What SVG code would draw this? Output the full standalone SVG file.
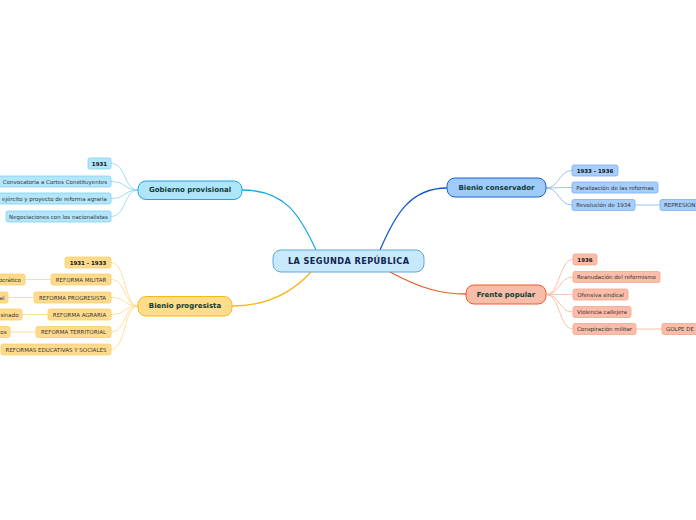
<svg xmlns="http://www.w3.org/2000/svg" width="696" height="520" viewBox="0 0 696 520">
<style>
text{font-family:"DejaVu Sans",Verdana,sans-serif;dominant-baseline:central}
.main{font-size:8.2px;font-weight:bold;fill:#10254f;text-anchor:middle;letter-spacing:0.4px}
.sub{font-size:7px;font-weight:bold;fill:#0f3a33;text-anchor:middle}
.leaf{font-size:5.5px;fill:#333;text-anchor:middle}
.yr{font-size:5.5px;font-weight:bold;fill:#111;text-anchor:middle}
.c{fill:none;stroke-width:1.3}
.cl{fill:none;stroke-width:0.9}
.gb rect.l{fill:#b3e6fb;stroke:#7fd0f2;stroke-width:0.8}
.bc rect.l{fill:#a6cdfb;stroke:#7aaef0;stroke-width:0.8}
.fp rect.l{fill:#fbbda9;stroke:#f3a58a;stroke-width:0.8}
.bp rect.l{fill:#fedb8c;stroke:#f9cf6a;stroke-width:0.8}
</style>
<g id="connectors">
<path class="c" stroke="#1ea7e1" d="M316,250 C300,215 285,190 242,190"/>
<path class="c" stroke="#1259c9" d="M380,250 C395,215 410,188 447,188"/>
<path class="c" stroke="#fbb315" d="M311,272 C290,295 265,306 232,306"/>
<path class="c" stroke="#f05a28" d="M390,272 C420,288 440,294 466,294"/>
<g stroke="#8fd8f3">
<path class="cl" d="M138,190 C124,190 126,163.5 111,163.5"/>
<path class="cl" d="M138,190 C124,190 126,181.5 111,181.5"/>
<path class="cl" d="M138,190 C124,190 126,198.5 111,198.5"/>
<path class="cl" d="M138,190 C124,190 126,216.5 111,216.5"/>
</g>
<g stroke="#8cb9ef">
<path class="cl" d="M546,188 C559,188 559,170.5 572,170.5"/>
<path class="cl" d="M546,188 C559,188 559,187.5 572,187.5"/>
<path class="cl" d="M546,188 C559,188 559,205 572,205"/>
<path class="cl" d="M635,205 L660,205"/>
</g>
<g stroke="#f8b9a3">
<path class="cl" d="M546,294.5 C560,294.5 559,259.5 573,259.5"/>
<path class="cl" d="M546,294.5 C560,294.5 559,277 573,277"/>
<path class="cl" d="M546,294.5 C560,294.5 559,294.5 573,294.5"/>
<path class="cl" d="M546,294.5 C560,294.5 559,312 573,312"/>
<path class="cl" d="M546,294.5 C560,294.5 559,329 573,329"/>
<path class="cl" d="M636,329 L662,329"/>
</g>
<g stroke="#fddb8e">
<path class="cl" d="M138,306 C124,306 126,262.5 111,262.5"/>
<path class="cl" d="M138,306 C124,306 126,279.5 111,279.5"/>
<path class="cl" d="M138,306 C124,306 126,297.5 111,297.5"/>
<path class="cl" d="M138,306 C124,306 126,314.5 111,314.5"/>
<path class="cl" d="M138,306 C124,306 126,332 111,332"/>
<path class="cl" d="M138,306 C124,306 126,349.5 111,349.5"/>
<path class="cl" d="M25,279.5 L51,279.5"/>
<path class="cl" d="M8,297.5 L34,297.5"/>
<path class="cl" d="M22,314.5 L48,314.5"/>
<path class="cl" d="M10,332 L36,332"/>
</g>
</g>
<g id="center">
<rect x="273" y="250" width="151" height="22" rx="8" fill="#c7e9fb" stroke="#5aa9d9" stroke-width="1"/>
<text class="main" x="348.7" y="261">LA SEGUNDA REPÚBLICA</text>
</g>
<g id="gobierno" class="gb">
<rect x="138" y="181" width="104" height="18.5" rx="8" fill="#aee5f9" stroke="#1ea7e1" stroke-width="1"/>
<text class="sub" x="190" y="190.2">Gobierno provisional</text>
<g id="gb1"><rect class="l" x="88" y="158" width="23" height="11" rx="2"/><text class="yr" x="99.5" y="163.5">1931</text></g>
<g id="gb2"><rect class="l" x="-2" y="176" width="113" height="11" rx="2"/><text class="leaf" x="55" y="181.5">Convocatoria a Cortes Constituyentes</text></g>
<g id="gb3"><rect class="l" x="-6" y="193" width="117" height="11" rx="2"/><text class="leaf" x="107" y="198.5" style="text-anchor:end">ejército y proyecto de reforma agraria</text></g>
<g id="gb4"><rect class="l" x="6" y="211" width="105" height="11" rx="2"/><text class="leaf" x="58.5" y="216.5">Negociaciones con los nacionalistas</text></g>
</g>
<g id="conservador" class="bc">
<rect x="447" y="178" width="99" height="19" rx="8" fill="#9fcbfb" stroke="#1d62c9" stroke-width="1"/>
<text class="sub" x="496.5" y="187.7">Bienio conservador</text>
<g id="bc1"><rect class="l" x="572" y="165" width="46" height="11" rx="2"/><text class="yr" x="595" y="170.5">1933 - 1936</text></g>
<g id="bc2"><rect class="l" x="572" y="182" width="86" height="11" rx="2"/><text class="leaf" x="615" y="187.5">Paralización de las reformas</text></g>
<g id="bc3"><rect class="l" x="572" y="199.5" width="63" height="11" rx="2"/><text class="leaf" x="603.5" y="205">Revolución de 1934</text></g>
<g id="bc4"><rect class="l" x="660" y="199.5" width="45" height="11" rx="2"/><text class="leaf" x="664" y="205" style="text-anchor:start">REPRESIÓN</text></g>
</g>
<g id="frente" class="fp">
<rect x="466" y="285" width="80" height="19" rx="8" fill="#f9bca8" stroke="#ee5a2a" stroke-width="1"/>
<text class="sub" x="506" y="294.7">Frente popular</text>
<g id="fp1"><rect class="l" x="573" y="254" width="24" height="11" rx="2"/><text class="yr" x="585" y="259.5">1936</text></g>
<g id="fp2"><rect class="l" x="573" y="271.5" width="87" height="11" rx="2"/><text class="leaf" x="616.5" y="277">Reanudación del reformismo</text></g>
<g id="fp3"><rect class="l" x="573" y="289" width="55" height="11" rx="2"/><text class="leaf" x="600.5" y="294.5">Ofensiva sindical</text></g>
<g id="fp4"><rect class="l" x="573" y="306.5" width="58" height="11" rx="2"/><text class="leaf" x="602" y="312">Violencia callejera</text></g>
<g id="fp5"><rect class="l" x="573" y="323.5" width="63" height="11" rx="2"/><text class="leaf" x="604.5" y="329">Conspiración militar</text></g>
<g id="fp6"><rect class="l" x="662" y="323.5" width="45" height="11" rx="2"/><text class="leaf" x="666" y="329" style="text-anchor:start">GOLPE DE</text></g>
</g>
<g id="progresista" class="bp">
<rect x="138" y="296.5" width="94" height="19.5" rx="8" fill="#fddc8a" stroke="#f6b81c" stroke-width="1"/>
<text class="sub" x="185" y="306.3">Bienio progresista</text>
<g id="bp1"><rect class="l" x="65" y="257" width="46" height="11" rx="2"/><text class="yr" x="88" y="262.5">1931 - 1933</text></g>
<g id="bp2"><rect class="l" x="51" y="274" width="60" height="11" rx="2"/><text class="leaf" x="81" y="279.5">REFORMA MILITAR</text></g>
<g id="bp2a"><rect class="l" x="-6" y="274" width="31" height="11" rx="2"/><text class="leaf" x="21" y="279.5" style="text-anchor:end">ocrático</text></g>
<g id="bp3"><rect class="l" x="34" y="292" width="77" height="11" rx="2"/><text class="leaf" x="72.5" y="297.5">REFORMA PROGRESISTA</text></g>
<g id="bp3a"><rect class="l" x="-6" y="292" width="14" height="11" rx="2"/><text class="leaf" x="4.5" y="297.5" style="text-anchor:end">al</text></g>
<g id="bp4"><rect class="l" x="48" y="309" width="63" height="11" rx="2"/><text class="leaf" x="79.5" y="314.5">REFORMA AGRARIA</text></g>
<g id="bp4a"><rect class="l" x="-6" y="309" width="28" height="11" rx="2"/><text class="leaf" x="18.5" y="314.5" style="text-anchor:end">sinado</text></g>
<g id="bp5"><rect class="l" x="36" y="326.5" width="75" height="11" rx="2"/><text class="leaf" x="73.5" y="332">REFORMA TERRITORIAL</text></g>
<g id="bp5a"><rect class="l" x="-6" y="326.5" width="16" height="11" rx="2"/><text class="leaf" x="6.5" y="332" style="text-anchor:end">os</text></g>
<g id="bp6"><rect class="l" x="1" y="344" width="110" height="11" rx="2"/><text class="leaf" x="56" y="349.5">REFORMAS EDUCATIVAS Y SOCIALES</text></g>
</g>
</svg>
